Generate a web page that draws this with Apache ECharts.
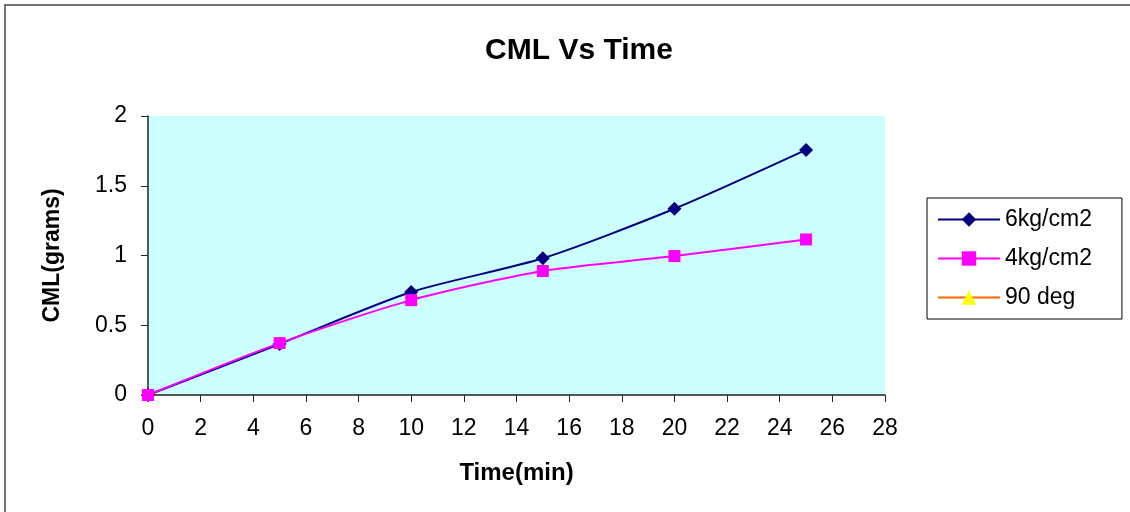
<!DOCTYPE html>
<html>
<head>
<meta charset="utf-8">
<script src="https://cdn.jsdelivr.net/npm/echarts@6/dist/echarts.min.js"></script>
<style>
html,body{margin:0;padding:0;background:#fff;}
#chart{width:1130px;height:512px;}
</style>
</head>
<body>
<div id="chart"></div>
<script>
// Data
const timeMin = [0, 5, 10, 15, 20, 25];
const cml6kg = [0, 0.366, 0.738, 0.98, 1.335, 1.757];
const cml4kg = [0, 0.372, 0.68, 0.889, 0.996, 1.115];
const cml90deg = [];
const seriesNames = ['6kg/cm2', '4kg/cm2', '90 deg'];
const xTicks = {min: 0, max: 28, interval: 2};
const yTicks = {min: 0, max: 2, interval: 0.5};

function pairs(xs, ys) { return ys.map((v, i) => [xs[i], v]); }

const FONT = '"Liberation Sans", Arial, sans-serif';
const chart = echarts.init(document.getElementById('chart'), null, {renderer: 'canvas'});
chart.setOption({
  animation: false,
  backgroundColor: '#ffffff',
  graphic: [{
    type: 'rect',
    shape: {x: 5, y: 5, width: 1200, height: 600},
    style: {fill: 'none', stroke: '#444', lineWidth: 1.5},
    silent: true
  }],
  title: {
    text: 'CML Vs Time',
    left: 574, top: 31, textAlign: 'center',
    textStyle: {fontFamily: FONT, fontSize: 30, fontWeight: 'bold', color: '#000'}
  },
  grid: {
    left: 148, right: 245, top: 116, bottom: 117,
    show: true, backgroundColor: '#ccffff', borderWidth: 0
  },
  legend: {
    orient: 'vertical',
    left: 927, top: 198,
    padding: [9, 30, 9, 10],
    itemWidth: 62, itemHeight: 18, itemGap: 14,
    borderColor: '#000', borderWidth: 1,
    backgroundColor: '#fff',
    textStyle: {fontFamily: FONT, fontSize: 23, color: '#000', lineHeight: 25},
    data: seriesNames
  },
  xAxis: {
    type: 'value',
    min: xTicks.min, max: xTicks.max, interval: xTicks.interval,
    name: 'Time(min)', nameLocation: 'middle', nameGap: 66,
    nameTextStyle: {fontFamily: FONT, fontSize: 24, fontWeight: 'bold', color: '#000'},
    axisLine: {show: true, lineStyle: {color: '#222', width: 1.5}},
    axisTick: {show: true, length: 7, lineStyle: {color: '#222'}},
    axisLabel: {fontFamily: FONT, fontSize: 23, color: '#000', margin: 22},
    splitLine: {show: false}
  },
  yAxis: {
    type: 'value',
    min: yTicks.min, max: yTicks.max, interval: yTicks.interval,
    name: 'CML(grams)', nameLocation: 'middle', nameGap: 84, nameRotate: 90,
    nameTextStyle: {fontFamily: FONT, fontSize: 23, fontWeight: 'bold', color: '#000'},
    axisLine: {show: true, lineStyle: {color: '#222', width: 1.5}},
    axisTick: {show: true, length: 7, lineStyle: {color: '#222'}},
    axisLabel: {fontFamily: FONT, fontSize: 23, color: '#000', margin: 21},
    splitLine: {show: false}
  },
  series: [
    {
      name: seriesNames[0], type: 'line', smooth: 0.25,
      data: pairs(timeMin, cml6kg),
      symbol: 'diamond', symbolSize: 14,
      itemStyle: {color: '#000080'},
      lineStyle: {color: '#000080', width: 2}
    },
    {
      name: seriesNames[1], type: 'line', smooth: 0.25,
      data: pairs(timeMin, cml4kg),
      symbol: 'rect', symbolSize: 12,
      itemStyle: {color: '#ff00ff'},
      lineStyle: {color: '#ff00ff', width: 2}
    },
    {
      name: seriesNames[2], type: 'line',
      data: cml90deg,
      symbol: 'triangle', symbolSize: 14,
      itemStyle: {color: '#ffff00'},
      lineStyle: {color: '#ff6600', width: 2}
    }
  ]
});
</script>
</body>
</html>
